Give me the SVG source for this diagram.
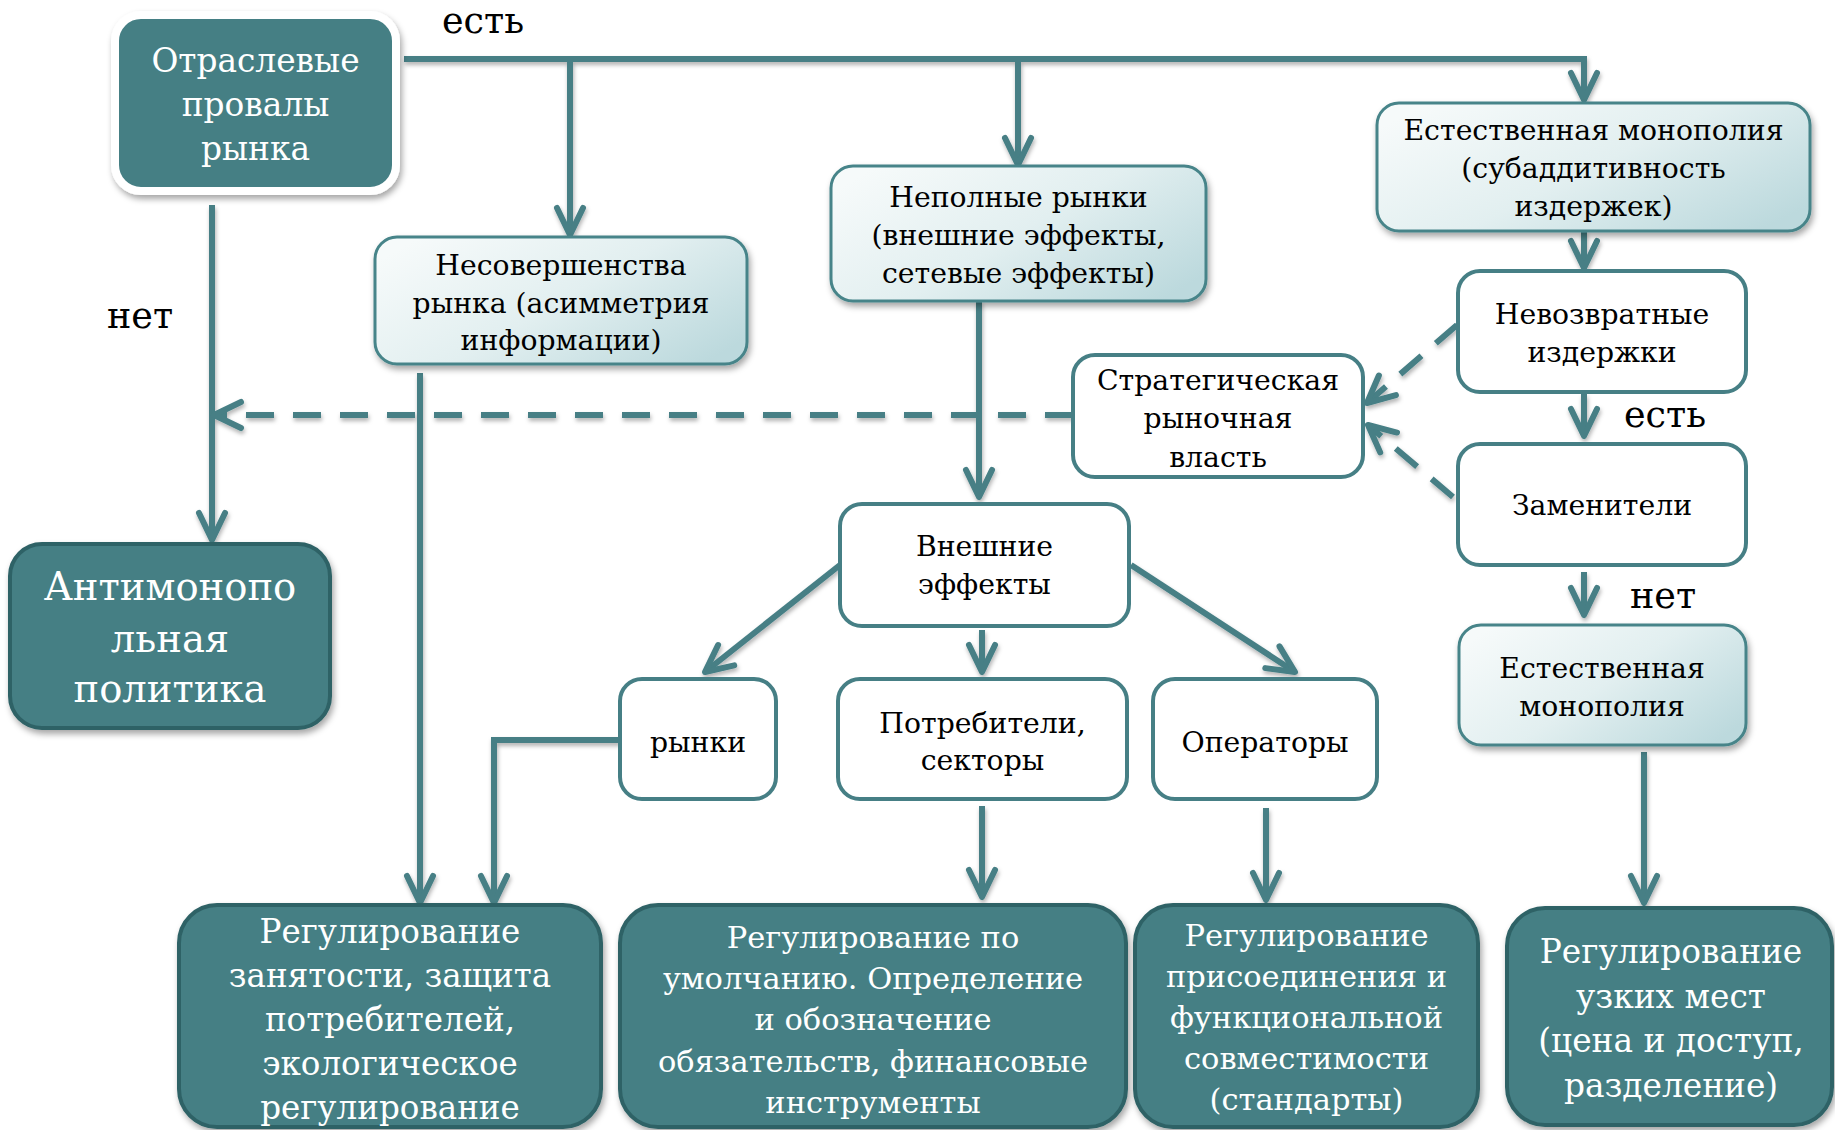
<svg xmlns="http://www.w3.org/2000/svg" width="1835" height="1130" viewBox="0 0 1835 1130">
<defs>
<linearGradient id="lg" x1="0" y1="0.2" x2="1" y2="0.8">
<stop offset="0" stop-color="#f6fafa"/>
<stop offset="0.5" stop-color="#e2eff0"/>
<stop offset="1" stop-color="#bcd9dd"/>
</linearGradient>
<filter id="sh" x="-10%" y="-10%" width="130%" height="140%">
<feDropShadow dx="2" dy="4" stdDeviation="3" flood-color="#000" flood-opacity="0.35"/>
</filter>
<filter id="shl" x="-5%" y="-5%" width="110%" height="110%">
<feDropShadow dx="1" dy="3" stdDeviation="2" flood-color="#000" flood-opacity="0.3"/>
</filter>
<marker id="ah" viewBox="-32 -16 36 32" markerWidth="36" markerHeight="32" refX="0" refY="0" markerUnits="userSpaceOnUse" orient="auto" overflow="visible">
<path d="M-27,-13 L0,0 L-27,13" fill="none" stroke="#467f85" stroke-width="6" stroke-linecap="round" stroke-linejoin="round"/>
</marker>
<style>
.dark{fill:#447f84;stroke:#2f6266;stroke-width:4;filter:url(#sh)}
.grad{fill:url(#lg);stroke:#468489;stroke-width:3;filter:url(#sh)}
.wht{fill:#fff;stroke:#467f85;stroke-width:4}
.t{font-family:"DejaVu Serif","Liberation Serif",serif;text-anchor:middle;fill:#000;font-size:28.3px}
.tw{font-family:"DejaVu Serif","Liberation Serif",serif;text-anchor:middle;fill:#fff}
.lbl{font-family:"DejaVu Serif","Liberation Serif",serif;font-size:36.5px;fill:#000}
.c{fill:none;stroke:#467f85;stroke-width:6;marker-end:url(#ah)}
.d{stroke-dasharray:28 19}
</style>
</defs>
<rect width="1835" height="1130" fill="#fff"/>

<g id="connectors" filter="url(#shl)">
<path class="c" d="M404,59 H1584 V100"/>
<path class="c" d="M570,59 V235"/>
<path class="c" d="M1018,59 V165"/>
<path class="c" d="M1584,231 V268"/>
<path class="c" d="M1584,394 V436"/>
<path class="c" d="M1584,572 V615"/>
<path class="c" d="M212,205 V540"/>
<path class="c d" d="M1073,415 H214"/>
<path class="c" d="M420,373 V903"/>
<path class="c" d="M620,740 H494 V903"/>
<path class="c" d="M979,301 V497"/>
<path class="c" d="M840,565 L705,672"/>
<path class="c" d="M982,630 V672"/>
<path class="c" d="M1131,565 L1295,672"/>
<path class="c" d="M982,806 V897"/>
<path class="c" d="M1266,808 V900"/>
<path class="c" d="M1644,752 V903"/>
<path class="c d" d="M1457,325 L1367,403"/>
<path class="c d" d="M1453,497 L1368,425"/>
</g>

<g id="labels">
<text class="lbl" x="442" y="33">есть</text>
<text class="lbl" x="107" y="328">нет</text>
<text class="lbl" x="1624" y="427">есть</text>
<text class="lbl" x="1630" y="608">нет</text>
</g>

<g id="n-otraslevye">
<rect x="115" y="15" width="281" height="176" rx="26" fill="#447f84" stroke="#fff" stroke-width="8" filter="url(#sh)"/>
<text class="tw" font-size="32.8" x="255.5" y="72">Отраслевые</text>
<text class="tw" font-size="32.8" x="255.5" y="116">провалы</text>
<text class="tw" font-size="32.8" x="255.5" y="160">рынка</text>
</g>

<g id="n-nesovershenstva">
<rect class="grad" x="375" y="237" width="372" height="127" rx="22"/>
<text class="t" x="561" y="275">Несовершенства</text>
<text class="t" x="561" y="313">рынка (асимметрия</text>
<text class="t" x="561" y="350">информации)</text>
</g>

<g id="n-nepolnye">
<rect class="grad" x="831" y="166" width="375" height="135" rx="22"/>
<text class="t" x="1018.5" y="207">Неполные рынки</text>
<text class="t" x="1018.5" y="245">(внешние эффекты,</text>
<text class="t" x="1018.5" y="283">сетевые эффекты)</text>
</g>

<g id="n-estmon1">
<rect class="grad" x="1377" y="103" width="433" height="128" rx="22"/>
<text class="t" x="1593.5" y="140">Естественная монополия</text>
<text class="t" x="1593.5" y="178">(субаддитивность</text>
<text class="t" x="1593.5" y="216">издержек)</text>
</g>

<g id="n-nevozvratnye">
<rect class="wht" x="1458" y="271" width="288" height="121" rx="22"/>
<text class="t" x="1602" y="324">Невозвратные</text>
<text class="t" x="1602" y="362">издержки</text>
</g>

<g id="n-strateg">
<rect class="wht" x="1073" y="355" width="290" height="122" rx="22"/>
<text class="t" x="1218" y="390">Стратегическая</text>
<text class="t" x="1218" y="428">рыночная</text>
<text class="t" x="1218" y="467">власть</text>
</g>

<g id="n-zameniteli">
<rect class="wht" x="1458" y="444" width="288" height="121" rx="22"/>
<text class="t" x="1602" y="515">Заменители</text>
</g>

<g id="n-estmon2">
<rect class="grad" x="1459" y="625" width="287" height="120" rx="22"/>
<text class="t" x="1602" y="678">Естественная</text>
<text class="t" x="1602" y="716">монополия</text>
</g>

<g id="n-vneshnie">
<rect class="wht" x="840" y="504" width="289" height="122" rx="22"/>
<text class="t" x="984.5" y="556">Внешние</text>
<text class="t" x="984.5" y="594">эффекты</text>
</g>

<g id="n-rynki">
<rect class="wht" x="620" y="679" width="156" height="120" rx="22"/>
<text class="t" x="698" y="752">рынки</text>
</g>

<g id="n-potrebiteli">
<rect class="wht" x="838" y="679" width="289" height="120" rx="22"/>
<text class="t" x="982.5" y="733">Потребители,</text>
<text class="t" x="982.5" y="770">секторы</text>
</g>

<g id="n-operatory">
<rect class="wht" x="1153" y="679" width="224" height="120" rx="22"/>
<text class="t" x="1265" y="752">Операторы</text>
</g>

<g id="n-antimonop">
<rect class="dark" x="10" y="544" width="320" height="184" rx="32"/>
<text class="tw" font-size="38.5" x="170" y="600">Антимонопо</text>
<text class="tw" font-size="38.5" x="170" y="652">льная</text>
<text class="tw" font-size="38.5" x="170" y="702">политика</text>
</g>

<g id="n-reg-zanyatosti">
<rect class="dark" x="179" y="905" width="422" height="222" rx="38"/>
<text class="tw" font-size="32.6" x="390" y="943">Регулирование</text>
<text class="tw" font-size="32.6" x="390" y="987">занятости, защита</text>
<text class="tw" font-size="32.6" x="390" y="1031">потребителей,</text>
<text class="tw" font-size="32.6" x="390" y="1075">экологическое</text>
<text class="tw" font-size="32.6" x="390" y="1119">регулирование</text>
</g>

<g id="n-reg-umolch">
<rect class="dark" x="620" y="905" width="506" height="222" rx="38"/>
<text class="tw" font-size="30.5" x="873" y="948">Регулирование по</text>
<text class="tw" font-size="30.5" x="873" y="989">умолчанию. Определение</text>
<text class="tw" font-size="30.5" x="873" y="1030">и обозначение</text>
<text class="tw" font-size="30.5" x="873" y="1072">обязательств, финансовые</text>
<text class="tw" font-size="30.5" x="873" y="1113">инструменты</text>
</g>

<g id="n-reg-prisoed">
<rect class="dark" x="1135" y="905" width="343" height="222" rx="38"/>
<text class="tw" font-size="30.5" x="1306.5" y="946">Регулирование</text>
<text class="tw" font-size="30.5" x="1306.5" y="987">присоединения и</text>
<text class="tw" font-size="30.5" x="1306.5" y="1028">функциональной</text>
<text class="tw" font-size="30.5" x="1306.5" y="1069">совместимости</text>
<text class="tw" font-size="30.5" x="1306.5" y="1110">(стандарты)</text>
</g>

<g id="n-reg-uzkih">
<rect class="dark" x="1507" y="908" width="325" height="217" rx="38"/>
<text class="tw" font-size="32.8" x="1671" y="963">Регулирование</text>
<text class="tw" font-size="32.8" x="1671" y="1008">узких мест</text>
<text class="tw" font-size="32.8" x="1671" y="1052">(цена и доступ,</text>
<text class="tw" font-size="32.8" x="1671" y="1097">разделение)</text>
</g>
</svg>
